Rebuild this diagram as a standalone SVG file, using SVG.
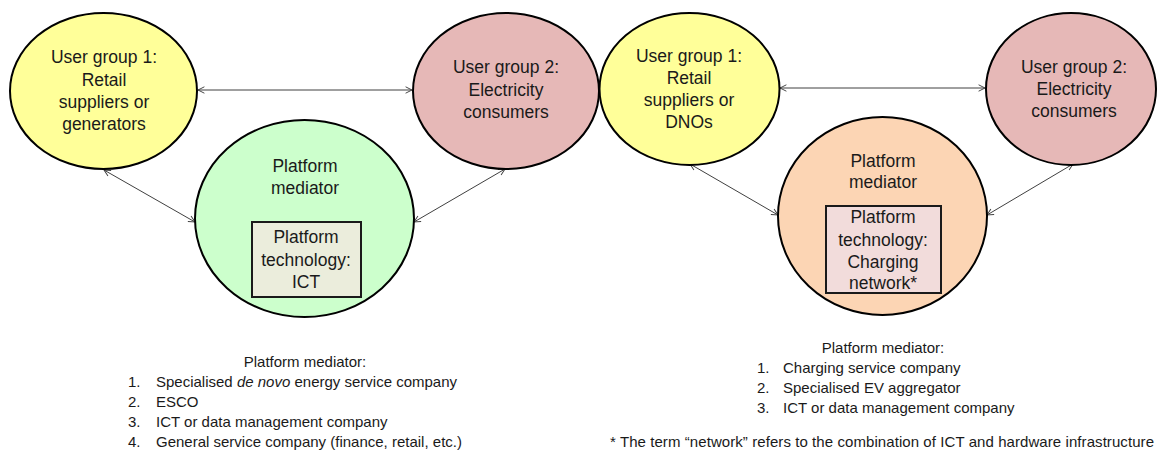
<svg xmlns="http://www.w3.org/2000/svg" width="1157" height="453" viewBox="0 0 1157 453">
<defs>
<style>
.n{stroke:#000;stroke-width:2}
.t{font-family:"Liberation Sans",Arial,sans-serif;font-size:17.5px;fill:#1a1a1a;text-anchor:middle}
.b{font-family:"Liberation Sans",Arial,sans-serif;font-size:15px;fill:#1a1a1a}
.c{text-anchor:middle}
.box{stroke:#1a1a1a;stroke-width:2}
.e{stroke:#404040;stroke-width:1;fill:none;marker-start:url(#ah);marker-end:url(#ah)}
</style>
<marker id="ah" viewBox="0 0 10 10" refX="9" refY="5" markerWidth="8" markerHeight="8" markerUnits="userSpaceOnUse" orient="auto-start-reverse">
<path d="M1,1 L9,5 L1,9" fill="none" stroke="#404040" stroke-width="1.2"/>
</marker>
</defs>
<rect width="1157" height="453" fill="#fff"/>
<g id="connectors">
<line class="e" x1="198" y1="90" x2="412" y2="90"/>
<line class="e" x1="104" y1="170" x2="195" y2="222"/>
<line class="e" x1="505" y1="169" x2="414" y2="222"/>
<line class="e" x1="780" y1="88" x2="985" y2="88"/>
<line class="e" x1="690" y1="164" x2="778" y2="215"/>
<line class="e" x1="1073" y1="164" x2="987" y2="215"/>
</g>
<g id="ug1-left">
<ellipse class="n" cx="103.5" cy="91" rx="93.5" ry="78" fill="#ffff99"/>
<text class="t" x="104" y="63">User group 1:</text>
<text class="t" x="104" y="86">Retail</text>
<text class="t" x="104" y="108">suppliers or</text>
<text class="t" x="104" y="130">generators</text>
</g>
<g id="ug2-left">
<ellipse class="n" cx="506" cy="91" rx="93" ry="78" fill="#e6b8b7"/>
<text class="t" x="506" y="73">User group 2:</text>
<text class="t" x="506" y="96">Electricity</text>
<text class="t" x="506" y="118">consumers</text>
</g>
<g id="pm-left">
<ellipse class="n" cx="304.5" cy="218.5" rx="109.5" ry="98.5" fill="#ccffcc"/>
<text class="t" x="305" y="172">Platform</text>
<text class="t" x="305" y="194">mediator</text>
<rect class="box" x="252" y="222" width="109" height="75" fill="#ebeddc"/>
<text class="t" x="306" y="243">Platform</text>
<text class="t" x="306" y="266">technology:</text>
<text class="t" x="306" y="288">ICT</text>
</g>
<g id="ug1-right">
<ellipse class="n" cx="689.5" cy="89" rx="90" ry="76" fill="#ffff99"/>
<text class="t" x="689" y="62">User group 1:</text>
<text class="t" x="689" y="84">Retail</text>
<text class="t" x="689" y="106">suppliers or</text>
<text class="t" x="689" y="128">DNOs</text>
</g>
<g id="ug2-right">
<ellipse class="n" cx="1071" cy="89" rx="85" ry="76" fill="#e6b8b7"/>
<text class="t" x="1074" y="73">User group 2:</text>
<text class="t" x="1074" y="95">Electricity</text>
<text class="t" x="1074" y="117">consumers</text>
</g>
<g id="pm-right">
<ellipse class="n" cx="882.5" cy="216" rx="104.5" ry="99" fill="#fcd5b4"/>
<text class="t" x="883" y="167">Platform</text>
<text class="t" x="883" y="188">mediator</text>
<rect class="box" x="826" y="206" width="115" height="87" fill="#f2dcdb"/>
<text class="t" x="883" y="223">Platform</text>
<text class="t" x="883" y="246">technology:</text>
<text class="t" x="883" y="268">Charging</text>
<text class="t" x="883" y="289">network*</text>
</g>
<g id="list-left">
<text class="b c" x="305" y="367">Platform mediator:</text>
<text class="b" x="128" y="387">1.</text><text class="b" x="156" y="387">Specialised <tspan font-style="italic">de novo</tspan> energy service company</text>
<text class="b" x="128" y="407">2.</text><text class="b" x="156" y="407">ESCO</text>
<text class="b" x="128" y="427">3.</text><text class="b" x="156" y="427">ICT or data management company</text>
<text class="b" x="128" y="447">4.</text><text class="b" x="156" y="447">General service company (finance, retail, etc.)</text>
</g>
<g id="list-right">
<text class="b c" x="883" y="353">Platform mediator:</text>
<text class="b" x="757" y="373">1.</text><text class="b" x="783" y="373">Charging service company</text>
<text class="b" x="757" y="393">2.</text><text class="b" x="783" y="393">Specialised EV aggregator</text>
<text class="b" x="757" y="413">3.</text><text class="b" x="783" y="413">ICT or data management company</text>
<text class="b" x="610" y="447" textLength="544">* The term “network” refers to the combination of ICT and hardware infrastructure</text>
</g>
</svg>
